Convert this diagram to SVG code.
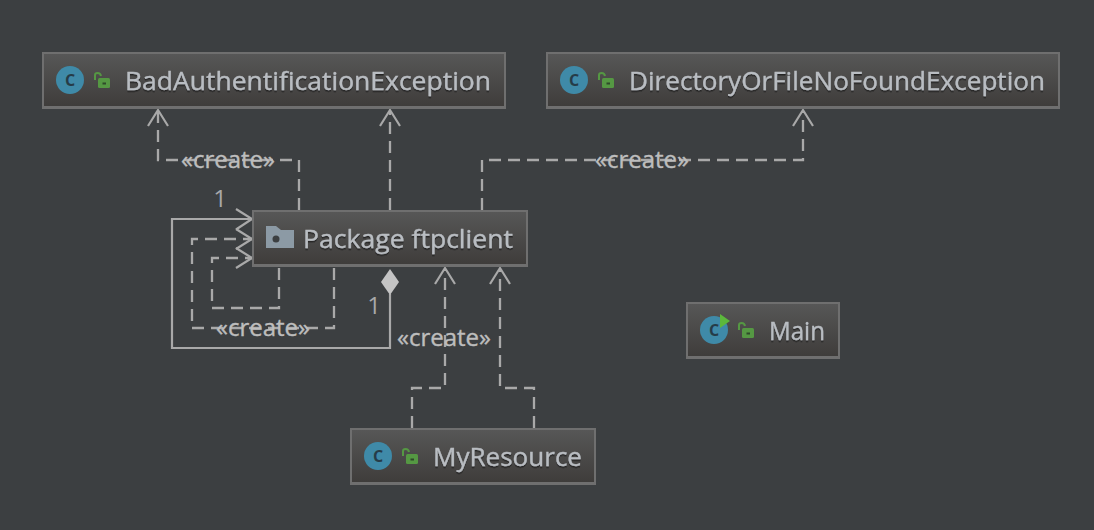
<svg xmlns="http://www.w3.org/2000/svg" width="1094" height="530" viewBox="0 0 1094 530">
<style>
.box{fill:url(#g);stroke:#6f6f6f;stroke-width:2}
.foot{fill:#6f6f6f}
.name{font-family:"Open Sans","DejaVu Sans",sans-serif;font-size:25px;fill:#b9bdc2;stroke:#b9bdc2;stroke-width:.35;filter:url(#sh)}
.lab{font-family:"Open Sans","DejaVu Sans",sans-serif;font-size:24px;fill:#bdbdbd;stroke:#bdbdbd;stroke-width:.4;text-anchor:middle}
.num{font-family:"Open Sans","DejaVu Sans",sans-serif;font-size:24px;fill:#a9a9a9;text-anchor:middle}
.dash{fill:none;stroke:#a9a9a9;stroke-width:2.3;stroke-dasharray:12 7}
.solid{fill:none;stroke:#a9a9a9;stroke-width:2.2}
.head{fill:none;stroke:#a9a9a9;stroke-width:2.2}
.circ{fill:#3f8aa8}
.c{font-family:"Open Sans","DejaVu Sans",sans-serif;font-size:16px;font-weight:700;fill:#263c48;text-anchor:middle}
.lockb{fill:#559843}
.locks{fill:none;stroke:#559843;stroke-width:2}
</style>
<defs>
<linearGradient id="g" x1="0" y1="0" x2="0" y2="1">
<stop offset="0" stop-color="#575757"/><stop offset="1" stop-color="#3e3c3a"/>
</linearGradient>
<filter id="sh" x="-5%" y="-20%" width="110%" height="150%">
<feDropShadow dx="0" dy="1.5" stdDeviation="0.4" flood-color="#1e1e1e" flood-opacity="0.8"/>
</filter>
<g id="lock">
<path class="locks" d="M-7 -3V-8Q-7 -10 -4.500 -10Q-1.500 -10 -1 -7"/>
<rect class="lockb" x="-4" y="-5" width="12" height="10" rx="1.500"/>
<rect x="0.500" y="-0.500" width="3.500" height="2" fill="#2f4a2a"/>
</g>
</defs>
<rect width="1094" height="530" fill="#3c3f41"/>
<g id="connectors">
<path class="dash" d="M299 210V160H158V111"/>
<path class="head" d="M148 126L158 110L168 126"/>
<path class="dash" d="M390 210V111"/>
<path class="head" d="M380 126L390 110L400 126"/>
<path class="dash" d="M482 210V160H803V111"/>
<path class="head" d="M793 126L803 110L813 126"/>
<path class="solid" d="M390 294V348H172V219H252"/>
<path class="head" d="M236 209L252 219L236 229.500"/>
<path d="M390 269L399 282L390 295L381 282Z" fill="#c4c4c4"/>
<path class="dash" d="M334 268V328H192V239H252"/>
<path class="head" d="M236 229L252 239L236 249"/>
<path class="dash" d="M279 268V308H212V258H252"/>
<path class="head" d="M236 248L252 258L236 268"/>
<path class="dash" d="M412 428V388H445V269"/>
<path class="head" d="M435 284L445 268L455 284"/>
<path class="dash" d="M534 428V388H500V269"/>
<path class="head" d="M490 284L500 268L510 284"/>
<text class="lab" x="228" y="168">«create»</text>
<text class="lab" x="642" y="168">«create»</text>
<text class="lab" x="263" y="336">«create»</text>
<text class="lab" x="444" y="346">«create»</text>
<text class="num" x="220" y="207">1</text>
<text class="num" x="374" y="314">1</text>
</g>
<g id="node-bad">
<rect class="box" x="43" y="53" width="462" height="55"/><rect class="foot" x="42" y="106" width="464" height="3"/>
<circle class="circ" cx="70" cy="80" r="14"/><text class="c" x="70" y="86">C</text>
<use href="#lock" x="102" y="83"/>
<text class="name" x="125" y="90" textLength="366" lengthAdjust="spacingAndGlyphs">BadAuthentificationException</text>
</g>
<g id="node-dir">
<rect class="box" x="547" y="53" width="512" height="55"/><rect class="foot" x="546" y="106" width="514" height="3"/>
<circle class="circ" cx="574" cy="80" r="14"/><text class="c" x="574" y="86">C</text>
<use href="#lock" x="606" y="83"/>
<text class="name" x="629" y="90" textLength="416" lengthAdjust="spacingAndGlyphs">DirectoryOrFileNoFoundException</text>
</g>
<g id="node-package">
<rect class="box" x="253" y="211" width="274" height="55"/><rect class="foot" x="252" y="264" width="276" height="3"/>
<path d="M266 226H276L281 230H294V248H266Z" fill="#8c9aa5"/><circle cx="276" cy="239" r="3.500" fill="#3c3f41"/>
<text class="name" x="303" y="248" textLength="210" lengthAdjust="spacingAndGlyphs">Package ftpclient</text>
</g>
<g id="node-main">
<rect class="box" x="687" y="303" width="152" height="55"/><rect class="foot" x="686" y="356" width="154" height="3"/>
<circle class="circ" cx="714" cy="330" r="14"/><text class="c" x="714" y="336">C</text>
<path d="M720 314L730 321L720 328Z" fill="#5cb83c"/>
<use href="#lock" x="746" y="333"/>
<text class="name" x="769" y="340" textLength="56" lengthAdjust="spacingAndGlyphs">Main</text>
</g>
<g id="node-myresource">
<rect class="box" x="351" y="429" width="244" height="55"/><rect class="foot" x="350" y="482" width="246" height="3"/>
<circle class="circ" cx="378" cy="456" r="14"/><text class="c" x="378" y="462">C</text>
<use href="#lock" x="410" y="459"/>
<text class="name" x="433" y="466" textLength="149" lengthAdjust="spacingAndGlyphs">MyResource</text>
</g>
</svg>
